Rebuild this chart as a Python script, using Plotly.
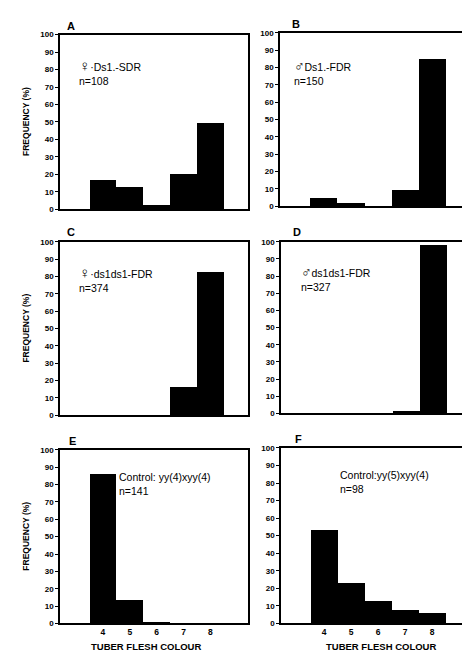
import plotly.graph_objects as go

categories = [4, 5, 6, 7, 8]
freq_A = [17, 13, 2.5, 20.5, 49.5]
freq_B = [4.7, 2, 0, 9.6, 85]
freq_C = [0, 0, 0, 16.7, 83]
freq_D = [0, 0, 0, 1.3, 98]
freq_E = [86, 13.5, 0.5, 0, 0]
freq_F = [53.5, 23, 12.7, 7.9, 6]
letters = ["A", "B", "C", "D", "E", "F"]
FEM = '<span style="font-size:15px">♀</span>'
MAL = '<span style="font-size:14px">♂</span>'
labels = [FEM + "·Ds1.-SDR<br>n=108", MAL + "Ds1.-FDR<br>n=150", FEM + "·ds1ds1-FDR<br>n=374",
          MAL + "ds1ds1-FDR<br>n=327", "Control: yy(4)xyy(4)<br>n=141", "Control:yy(5)xyy(4)<br>n=98"]
y_ticks = list(range(0, 101, 10))
x_title = "TUBER FLESH COLOUR"
y_title = "FREQUENCY (%)"

W, H = 470, 652
def px(x):
    return x / W
def py(y):
    return 1 - y / H

# panel boxes in pixels: (left, right, top, bottom)
boxes = [
    (52, 240, 23, 200), (272, 463, 21, 197),
    (52, 240, 233, 409), (273, 464, 233, 407),
    (52, 240, 444, 620), (273, 462, 442, 620),
]
series = [freq_A, freq_B, freq_C, freq_D, freq_E, freq_F]
text_pos = [(69, 44), (284, 45), (69, 254), (291, 253), (109, 463), (330, 461)]
letter_pos = [(57, 14), (282, 12), (57, 223), (283, 223), (59, 435), (285, 433)]

fig = go.Figure()
layout = dict(
    width=W, height=H, margin=dict(l=0, r=0, t=0, b=0),
    paper_bgcolor="white", plot_bgcolor="white", showlegend=False,
    bargap=0, font=dict(family="Liberation Sans, Arial, sans-serif", color="black"),
)
annotations = []
for i, (vals, box) in enumerate(zip(series, boxes)):
    n = i + 1
    xa = "x" if n == 1 else f"x{n}"
    ya = "y" if n == 1 else f"y{n}"
    fig.add_trace(go.Bar(x=categories, y=vals, width=1, marker=dict(color="black", line=dict(width=0)),
                         xaxis=xa, yaxis=ya))
    l, r, t, b = box
    bottom_row = i >= 4
    layout["xaxis" if n == 1 else f"xaxis{n}"] = dict(
        domain=[px(l), px(r)], range=[2.4, 9.4], anchor=ya,
        showline=True, linecolor="black", linewidth=1.6, mirror=True,
        showgrid=False, zeroline=False,
        tickmode="array", tickvals=categories if bottom_row else [],
        ticktext=[f"<b>{c}</b>" for c in categories] if bottom_row else [],
        ticks="", tickfont=dict(size=8.5, family="Liberation Sans, Arial", color="black"),
    )
    layout["yaxis" if n == 1 else f"yaxis{n}"] = dict(
        domain=[py(b), py(t)], range=[0, 100], anchor=xa,
        showline=True, linecolor="black", linewidth=1.6, mirror=True,
        showgrid=False, zeroline=False,
        tickmode="array", tickvals=y_ticks, ticktext=[f"<b>{v}</b>" for v in y_ticks],
        ticks="outside", ticklen=3, tickwidth=1, tickcolor="black",
        tickfont=dict(size=8, family="Liberation Sans, Arial", color="black"),
    )
    lx, ly = letter_pos[i]
    annotations.append(dict(text=f"<b>{letters[i]}</b>", x=px(lx), y=py(ly), xref="paper", yref="paper",
                            xanchor="left", yanchor="middle", showarrow=False,
                            font=dict(size=11, color="black")))
    tx, ty = text_pos[i]
    annotations.append(dict(text=labels[i], x=px(tx), y=py(ty), xref="paper", yref="paper",
                            xanchor="left", yanchor="top", align="left", showarrow=False,
                            font=dict(size=10.5, color="black")))
    if i % 2 == 0:
        annotations.append(dict(text=f"<b>{y_title}</b>", x=px(18), y=py((t + b) / 2), xref="paper", yref="paper",
                                xanchor="center", yanchor="middle", textangle=-90, showarrow=False,
                                font=dict(size=8.5, color="black")))
    if bottom_row:
        annotations.append(dict(text=f"<b>{x_title}</b>", x=px(138 if i == 4 else 373), y=py(643),
                                xref="paper", yref="paper", xanchor="center", yanchor="middle",
                                showarrow=False, font=dict(size=9.5, color="black")))
layout["annotations"] = annotations
fig.update_layout(**layout)
fig.write_html("out.html")
